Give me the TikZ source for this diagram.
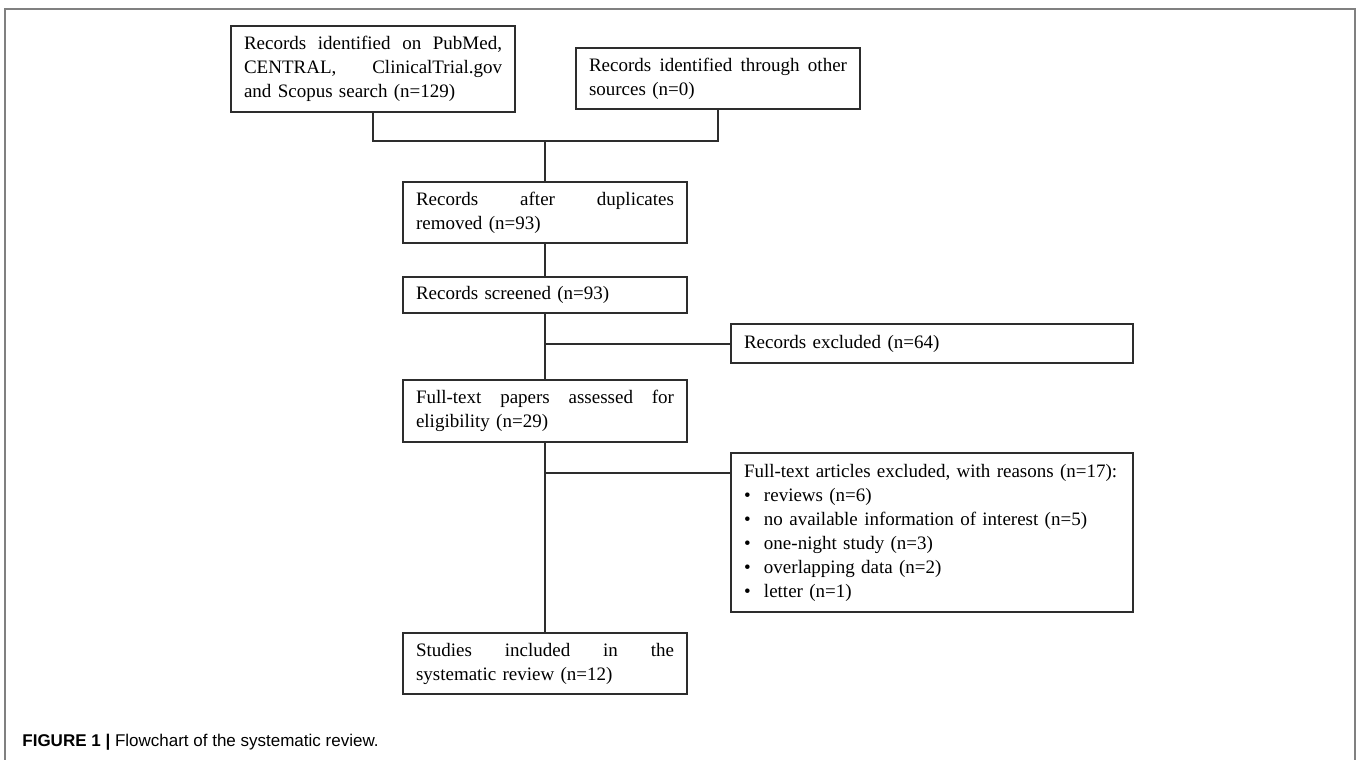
\documentclass[tikz,border=0pt]{standalone}
\usepackage{fontspec}
\setmainfont{Liberation Serif}
\setsansfont{Liberation Sans}
\usepackage{tikz}
\definecolor{framegray}{RGB}{128,128,128}
\definecolor{boxline}{RGB}{45,45,45}
\newcommand{\jline}[1]{\leavevmode\hbox to 129pt{\spaceskip=0.25em plus 1fil\xspaceskip=\spaceskip\relax #1}}
\newcommand{\bitem}[1]{\makebox[10pt][l]{\textbullet}#1}

\begin{document}
\begin{tikzpicture}[x=0.5pt,y=-0.5pt,
  box/.style={draw=boxline,line width=0.6pt,text width=129pt,inner xsep=6.5pt,inner ysep=2pt,
    align=left,font=\fontsize{9.5}{12}\selectfont},
  widebox/.style={box,text width=188pt},
  link/.style={draw=boxline,line width=0.6pt}]
\useasboundingbox (0,0) rectangle (1357,760);
\draw[framegray,line width=1pt] (5,760) |- (1355,9) -- (1355,760);

\node[box,minimum height=43pt] (search) at (373,69) {\jline{Records identified on PubMed,}\\\jline{CENTRAL, ClinicalTrial.gov}\\and Scopus search (n=129)};
\node[box,minimum height=30.5pt] (other) at (718,78.5) {\jline{Records identified through other}\\sources (n=0)};
\node[box,minimum height=30.5pt] (dedup) at (545,212.5) {\jline{Records after duplicates}\\removed (n=93)};
\node[box,minimum height=18pt] (screened) at (545,295) {Records screened (n=93)};
\node[widebox,minimum height=19.5pt] (excluded) at (932,343.5) {Records excluded (n=64)};
\node[box,minimum height=31pt] (fulltext) at (545,411) {\jline{Full-text papers assessed for}\\eligibility (n=29)};
\node[widebox,minimum height=79.5pt] (reasons) at (932,532.5) {Full-text articles excluded, with reasons (n=17):\\
  \bitem{reviews (n=6)}\\\bitem{no available information of interest (n=5)}\\\bitem{one-night study (n=3)}\\
  \bitem{overlapping data (n=2)}\\\bitem{letter (n=1)}};
\node[box,minimum height=30.5pt] (included) at (545,663.5) {\jline{Studies included in the}\\systematic review (n=12)};

\coordinate (merge) at (545,141);
\coordinate (split1) at (545,344);
\coordinate (split2) at (545,473);
\draw[link] (search.south) |- (merge) -| (other.south);
\draw[link] (merge) -- (dedup.north);
\draw[link] (dedup) -- (screened);
\draw[link] (screened) -- (fulltext);
\draw[link] (fulltext) -- (included);
\draw[link] (split1) -- (split1 -| excluded.west);
\draw[link] (split2) -- (split2 -| reasons.west);

\node[anchor=base west,inner sep=0pt,font=\sffamily\fontsize{8.5}{10}\selectfont] (caption) at (22,746)
  {\textbf{FIGURE 1 |} Flowchart of the systematic review.};
\end{tikzpicture}
\end{document}
